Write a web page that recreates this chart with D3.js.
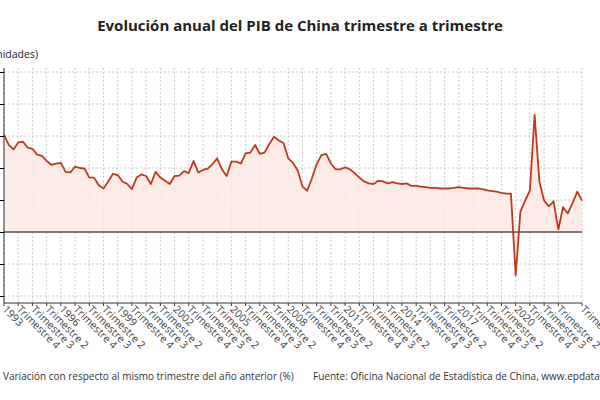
<!DOCTYPE html>
<html><head><meta charset="utf-8">
<script src="https://cdn.jsdelivr.net/npm/d3@7"></script>
<style>body{margin:0;background:#fff}text{font-family:"Open Sans",sans-serif}</style>
</head><body><svg id="c" width="600" height="400"></svg>
<script>
const startYear = 1993;
const values = [15.2,13.6,12.9,14.0,14.1,13.2,13.0,12.1,11.9,11.1,10.5,10.7,10.8,9.4,9.3,10.2,10.0,9.9,8.5,8.5,7.3,6.8,7.9,9.1,8.9,7.9,7.5,6.7,8.5,9.0,8.75,7.5,9.4,8.5,8.0,7.5,8.75,8.8,9.5,9.2,11.1,9.3,
9.7,9.9,10.6,11.5,9.8,8.75,11.0,11.0,10.7,12.3,12.4,13.6,12.2,12.4,13.75,14.9,14.3,13.9,11.5,10.8,9.6,7.1,6.45,8.4,10.6,12.0,12.2,10.7,9.8,9.8,10.1,9.8,9.2,8.5,7.9,7.6,7.5,8.0,7.9,7.6,7.8,7.6,
7.5,7.6,7.2,7.2,7.1,7.0,6.9,6.9,6.8,6.8,6.8,6.9,7.0,6.9,6.8,6.8,6.8,6.7,6.5,6.4,6.3,6.1,6.0,6.0,
-6.8,3.2,4.9,6.5,18.3,7.9,4.9,4.0,4.8,0.4,3.9,2.9,4.5,6.3,4.9];
const yTicks = [-10,-5,0,5,10,15,20,25];
const labels = values.map((v,i)=>{const q=i%4; return q===0? String(startYear+i/4) : "Trimestre "+(q+1);});

const svg = d3.select("#c");
const x = d3.scaleLinear().domain([0, values.length-1]).range([4, 582]);
const y = d3.scaleLinear().domain([-10,25]).range([296,72]);
const yBot = 303, yTop = 68;

svg.append("text").attr("x",300).attr("y",31).attr("text-anchor","middle")
  .attr("font-size",15).attr("font-weight","bold").attr("fill","#222")
  .text("Evolución anual del PIB de China trimestre a trimestre");
svg.append("text").attr("x",38).attr("y",58).attr("text-anchor","end")
  .attr("font-size",10.5).attr("fill","#222").text("(Tasa en unidades)");

const tickIdx = d3.range(0, 118, 3).concat([values.length-1]);
svg.append("g").selectAll("line").data(yTicks).join("line")
  .attr("x1",4).attr("x2",582).attr("y1",d=>y(d)).attr("y2",d=>y(d))
  .attr("stroke","#ccc").attr("stroke-dasharray","2,2");
svg.append("g").selectAll("line").data(tickIdx).join("line")
  .attr("x1",d=>x(d)).attr("x2",d=>x(d)).attr("y1",yTop).attr("y2",yBot)
  .attr("stroke","#ccc").attr("stroke-dasharray","2,2");

svg.append("path").datum(values)
  .attr("d", d3.area().x((d,i)=>x(i)).y0(y(0)).y1(d=>y(d)))
  .attr("fill","#fbe6e1").attr("opacity",0.8);
svg.append("line").attr("x1",4).attr("x2",582).attr("y1",y(0)).attr("y2",y(0))
  .attr("stroke","#555").attr("stroke-width",1.5);
svg.append("path").datum(values)
  .attr("d", d3.line().x((d,i)=>x(i)).y(d=>y(d)))
  .attr("fill","none").attr("stroke","#c0391f").attr("stroke-width",1.8).attr("stroke-linejoin","round");

const ya = svg.append("g").attr("transform","translate(4,0)")
  .call(d3.axisLeft(y).tickValues(yTicks).tickSize(4));
ya.select(".domain").attr("d",`M0,${yTop}V${yBot}`).attr("stroke","#333");
ya.selectAll("text").attr("font-size",10);

const xa = svg.append("g").attr("transform",`translate(0,${yBot})`);
xa.append("line").attr("x1",4).attr("x2",582).attr("stroke","#333");
xa.selectAll("line.t").data(tickIdx).join("line").attr("class","t")
  .attr("x1",d=>x(d)).attr("x2",d=>x(d)).attr("y1",0).attr("y2",3).attr("stroke","#333");
xa.selectAll("text").data(tickIdx).join("text")
  .attr("transform",d=>`translate(${x(d)-2},7) rotate(45)`)
  .attr("font-size",10.5).attr("fill","#444").text(d=>labels[d]);

svg.append("text").attr("x",3).attr("y",380).attr("font-size",10).attr("fill","#333")
  .text("Variación con respecto al mismo trimestre del año anterior (%)");
svg.append("text").attr("x",313).attr("y",380).attr("font-size",10).attr("fill","#333")
  .text("Fuente: Oficina Nacional de Estadística de China, www.epdata.es");
</script></body></html>
